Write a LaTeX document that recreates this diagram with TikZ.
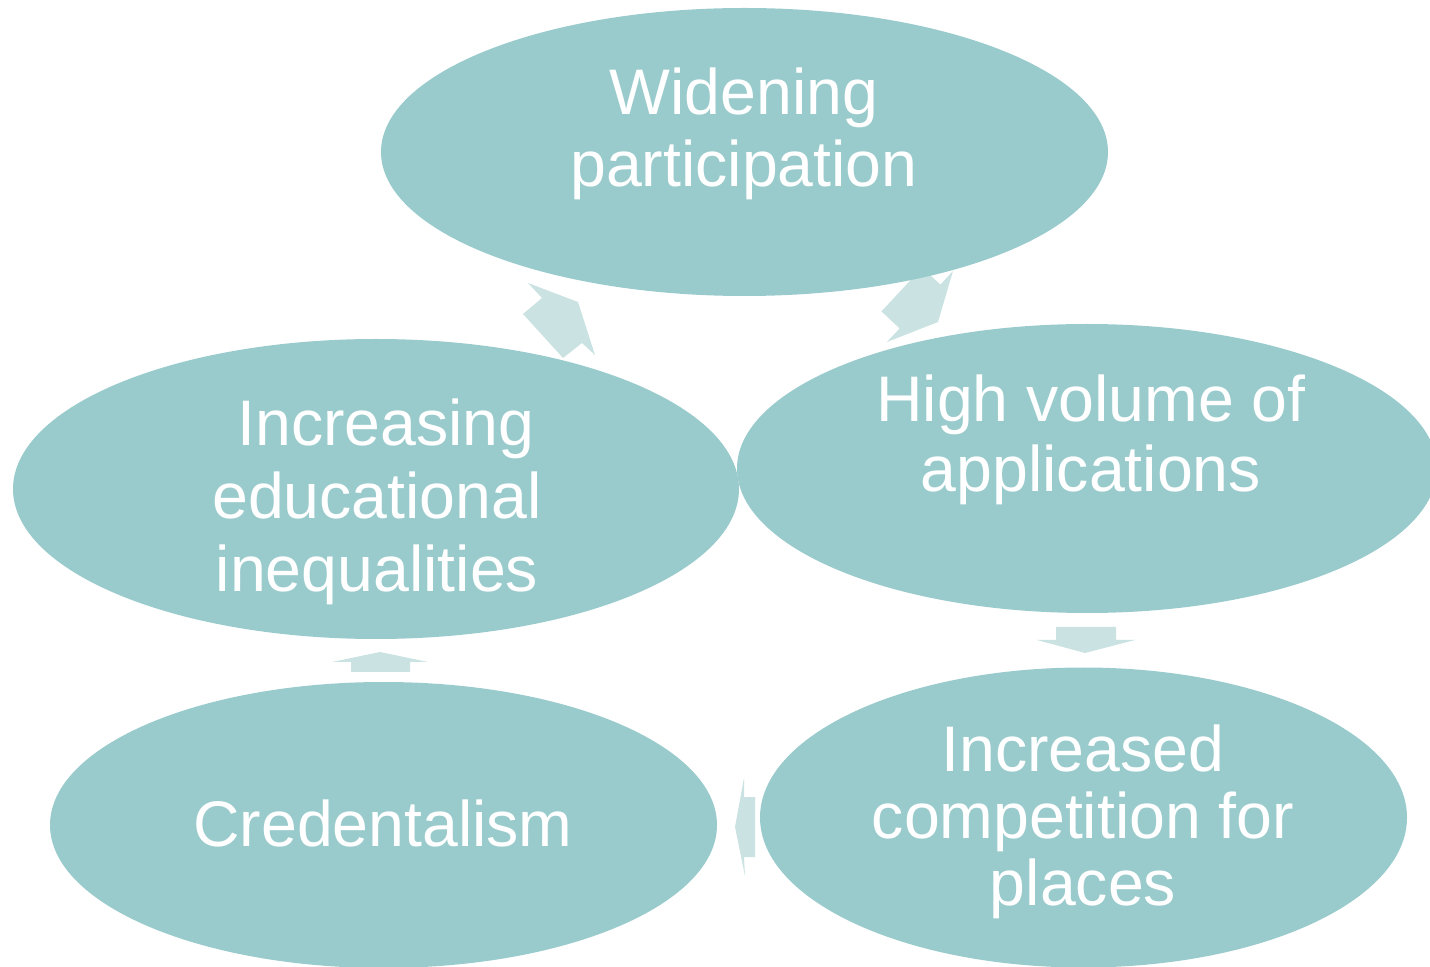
\documentclass[tikz,border=0pt]{standalone}
\usepackage{fontspec}
\setmainfont{Liberation Sans}
\usetikzlibrary{shapes.geometric}
\definecolor{mteal}{HTML}{9ACBCC}
\definecolor{mpale}{HTML}{CAE2E1}
\tikzset{bubble/.style = {ellipse, fill=mteal, inner sep=0pt, outer sep=0pt},
         lbl/.style = {text=white, align=center, anchor=base, inner sep=0pt,
                       font=\fontsize{32.2}{36}\selectfont},
         blockarrow/.style = {fill=mpale}}

\begin{document}
\begin{tikzpicture}[x=0.5pt, y=-0.5pt]
  \useasboundingbox (0,0) rectangle (1430,967);
  % block arrows of the cycle, under the ellipses
  \fill [blockarrow] (528,283) -- (578,302) -- (595,355) -- (582,343) -- (563,358) -- (523,314) -- (542,298) -- cycle;
  \fill [blockarrow] (938,322) -- (887,342) -- (899.6,328.4) -- (881.4,311.4) -- (922.2,267.6) -- (940.4,284.6) -- (953,271) -- cycle;
  \fill [blockarrow] (1056,627) -- (1116,627) -- (1116,640) -- (1135,640) -- (1085,653) -- (1037,640) -- (1056,640) -- cycle;
  \fill [blockarrow] (755,797) -- (744,797) -- (744,778) -- (735,827) -- (745,876) -- (744,857) -- (755,857) -- cycle;
  \fill [blockarrow] (351,672) -- (351,662) -- (332,662) -- (380,652) -- (428,662) -- (410,662) -- (410,672) -- cycle;
  % ellipses
  \node [bubble, minimum width=363.5pt, minimum height=144pt] (widening) at (744.5,152) {};
  \node [bubble, minimum width=350pt, minimum height=144.5pt] (volume) at (1087,468.5) {};
  \node [bubble, minimum width=323.5pt, minimum height=150pt] (competition) at (1083.5,817.5) {};
  \node [bubble, minimum width=333.5pt, minimum height=143pt] (credentialism) at (383.5,825) {};
  \node [bubble, minimum width=363pt, minimum height=150pt] (inequalities) at (376,489) {};
  % labels (anchor base = last line)
  \node [lbl] (widening-text) at (744,186.7) {Widening\\participation};
  \node [lbl, font=\fontsize{32.2}{35}\selectfont] (volume-text) at (1091,491.7) {High volume of\\applications};
  \node [lbl, font=\fontsize{32.2}{33.3}\selectfont] (competition-text) at (1083,905) {Increased\\competition for\\places};
  \node [lbl] (credentialism-text) at (383,846) {Credentalism};
  \node [lbl, font=\fontsize{32.2}{36.5}\selectfont] (inequalities-text) at (377,592) {\hspace*{9pt}Increasing\\educational\\inequalities};
\end{tikzpicture}
\end{document}
